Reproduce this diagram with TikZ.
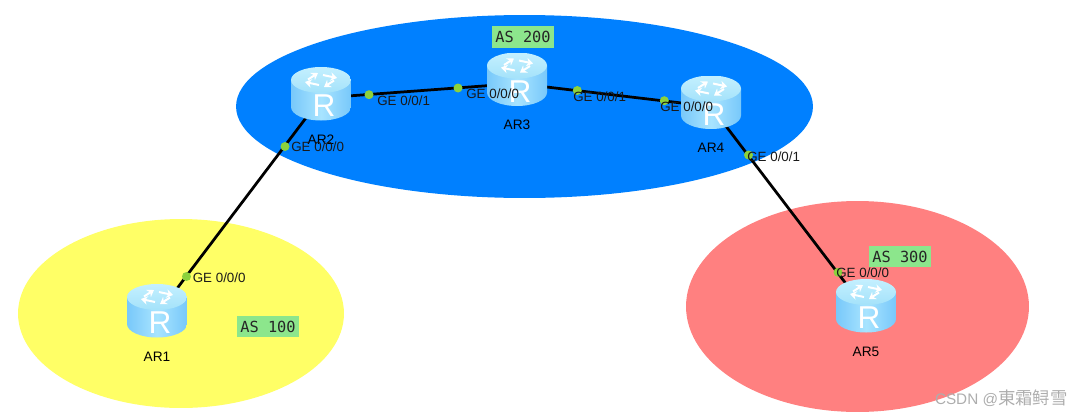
\documentclass[tikz,border=0pt]{standalone}
\usepackage{fontspec}
\setmainfont{Liberation Sans}
\setsansfont{Liberation Sans}
\setmonofont{DejaVu Sans Mono}
\newfontfamily\cjk{Noto Sans CJK SC}
\usetikzlibrary{
  arrows.meta,
  positioning,  % Function "of" (e.g. [below=of x])
  backgrounds,  % Predefined layer named "background"
  shapes.geometric,
}
\definecolor{asblue}{HTML}{0080FF}
\definecolor{asyellow}{HTML}{FFFF66}
\definecolor{asred}{HTML}{FF8080}
\definecolor{asgreen}{HTML}{8CE68C}
\definecolor{portgreen}{HTML}{8CD23C}
\definecolor{routeredge}{HTML}{78C8FA}
\definecolor{routermid}{HTML}{A8E4FF}
\definecolor{routerlid}{HTML}{A4E2FA}
\definecolor{routerlidhi}{HTML}{C4F0FF}
\def\myndist{0.27cm}
\def\myport{0.08cm}
\tikzset{
  font=\sffamily,
  x=0.02cm,
  y=-0.02cm,
  area/.style={
    ellipse,
    inner sep=0mm
  },
  lid arrow/.style={
    white,
    line width=0.4mm,
    -{Stealth[length=1.3mm,width=1.7mm]}
  },
  my router/.style={
    rectangle,
    inner sep=0mm,
    minimum width=1.2cm,
    minimum height=1.06cm,
    path picture={
      \begin{scope}[shift={(path picture bounding box.center)},y=0.02cm]
        % body, then the lid with its four arrows
        \shade[left color=routeredge,right color=routeredge,middle color=routermid]
          (-30,14) -- (-30,-13) arc[start angle=180,end angle=360,x radius=30,y radius=13.5] -- (30,14) -- cycle;
        \shade[top color=routerlidhi,bottom color=routerlid]
          (0,14) ellipse[x radius=30,y radius=13];
        \draw[lid arrow] (-13,14.5) -- (-3,21);
        \draw[lid arrow] (2,19)     -- (16,16);
        \draw[lid arrow] (13,13.5)  -- (3,7);
        \draw[lid arrow] (-2,9)     -- (-16,12);
        \node[white,font=\fontsize{18}{18}\selectfont\sffamily,inner sep=0mm] at (3,-12) {R};
      \end{scope}
    }
  },
  my name/.style={
    font=\fontsize{7.8}{9}\selectfont\sffamily,
    inner sep=0mm,
    node distance=\myndist
  },
  port/.style={
    circle,
    fill=portgreen,
    inner sep=0mm,
    minimum size=0.18cm
  },
  port text/.style={
    font=\fontsize{7.6}{9}\selectfont\sffamily,
    inner sep=0mm,
    anchor=west,
    text=black!90
  },
  as box/.style={
    fill=asgreen,
    font=\fontsize{8.7}{10}\selectfont\ttfamily,
    inner sep=0mm,
    minimum width=1.24cm,
    minimum height=0.43cm,
    text=black!85
  },
  link/.style={
    draw=black,
    line width=0.55mm
  }
}
\begin{document}
\begin{tikzpicture}
\path[use as bounding box] (0,0) rectangle (1082,416);

% routers
\node[my router] (AR1) at (157,311)   {};
\node[my router] (AR2) at (321,94)    {};
\node[my router] (AR3) at (517,79.5)  {};
\node[my router] (AR4) at (711,102.5) {};
\node[my router] (AR5) at (866,306)   {};

\node[my name] (name1) [below=of AR1] {AR1};
\node[my name] (name2) [below=of AR2] {AR2};
\node[my name] (name3) [below=of AR3] {AR3};
\node[my name] (name4) [below=of AR4] {AR4};
\node[my name] (name5) [below=of AR5] {AR5};

% AS areas and the links sit behind the routers
\begin{pgfonlayer}{background}
  \node[area,fill=asblue,minimum width=11.54cm,minimum height=3.66cm]   (as200) at (524.5,106.5) {};
  \node[area,fill=asyellow,minimum width=6.52cm,minimum height=3.78cm]  (as100) at (181,313.5)   {};
  \node[area,fill=asred,minimum width=6.86cm,minimum height=4.22cm]     (as300) at (857.5,306.5) {};
  \foreach \from/\to in {AR1/AR2,AR2/AR3,AR3/AR4,AR4/AR5}
    \draw[link] ([yshift=-\myport]\from.center) -- ([yshift=-\myport]\to.center);
\end{pgfonlayer}

% interface dots
\node[port] (p1)  at (186.5,276.5) {};
\node[port] (p2)  at (285,146.5)   {};
\node[port] (p3)  at (369,94.7)    {};
\node[port] (p4)  at (458,88)      {};
\node[port] (p5)  at (577.3,90.5)  {};
\node[port] (p6)  at (664.3,100.7) {};
\node[port] (p7)  at (748.5,155)   {};
\node[port] (p8)  at (838,272.3)   {};

\node[port text] (t1) at (192.5,277.5) {GE 0/0/0};
\node[port text] (t2) at (291,147.2)   {GE 0/0/0};
\node[port text] (t3) at (377,100.7)   {GE 0/0/1};
\node[port text] (t4) at (466,94)      {GE 0/0/0};
\node[port text] (t5) at (573,96.7)    {GE 0/0/1};
\node[port text] (t6) at (660,106.7)   {GE 0/0/0};
\node[port text] (t7) at (747,156.7)   {GE 0/0/1};
\node[port text] (t8) at (836,272.7)   {GE 0/0/0};

\node[as box] (lab100) at (268,326.5) {AS 100};
\node[as box] (lab200) at (523,37)    {AS 200};
\node[as box] (lab300) at (900,256.5) {AS 300};

\node[anchor=east,inner sep=0mm,text=black!32,font=\fontsize{8.7}{10}\selectfont\sffamily] (mark) at (1068,398)
  {CSDN @{\cjk\fontsize{9.9}{10}\selectfont 東霜鲟雪}};
\end{tikzpicture}
\end{document}
